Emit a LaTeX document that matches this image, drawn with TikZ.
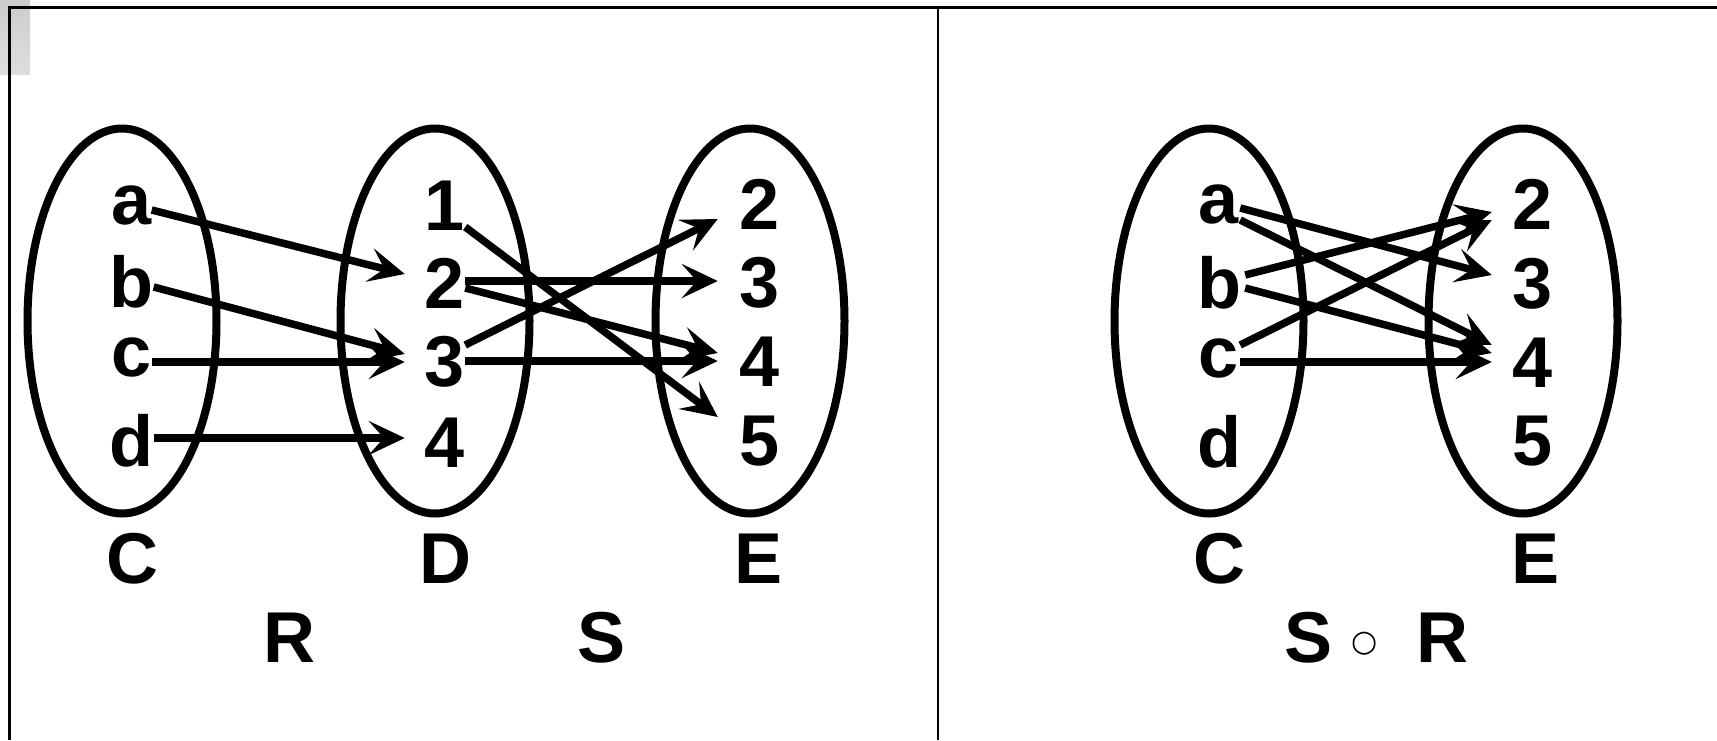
\documentclass[tikz,border=0pt]{standalone}
\usepackage{fontspec}
\setmainfont{Liberation Sans}
\newfontfamily\symfont{DejaVu Sans}
\usetikzlibrary{arrows.meta,calc,shapes.geometric}
\begin{document}
\begin{tikzpicture}[x=1pt,y=-1pt,
  lbl/.style={font=\fontsize{72}{80}\selectfont\bfseries, inner sep=0pt, anchor=base},
  setell/.style={draw, ellipse, line width=8pt, minimum width=189pt, minimum height=385pt, inner sep=0pt},
  conn/.style={line width=7.5pt, -{Stealth[length=36pt,width=34pt,inset=15pt]}},
  frame/.style={line width=3pt}]
% canvas
\fill[white] (0,0) rectangle (1717,740);
\useasboundingbox (0,0) rectangle (1717,740);
\shade[top color=black!20, bottom color=black!13] (0,0) rectangle (30,74);
\draw[frame] (9.5,740) -- (9.5,7.5) -- (1717,7.5);
\draw[line width=2.5pt] (938,7.5) -- (938,740);

% sets (left panel)
\node[setell] (setC) at (122,321) {};
\node[setell] (setD) at (435,321) {};
\node[setell] (setE) at (750,321) {};
% sets (right panel)
\node[setell] (setC2) at (1209,321) {};
\node[setell] (setE2) at (1523,321) {};

% elements of C
\node[lbl] (a) at (131.5,224) {a};
\node[lbl] (b) at (131.5,307) {b};
\node[lbl] (c) at (131.5,376) {c};
\node[lbl] (d) at (131.5,466) {d};
% elements of D
\node[lbl] (d1) at (445,230) {1};
\node[lbl] (d2) at (445,308) {2};
\node[lbl] (d3) at (445,386) {3};
\node[lbl] (d4) at (445,467) {4};
% elements of E
\node[lbl] (e2) at (760,229) {2};
\node[lbl] (e3) at (760,307) {3};
\node[lbl] (e4) at (760,386) {4};
\node[lbl] (e5) at (760,465) {5};
% right panel C
\node[lbl] (ra) at (1219,223) {a};
\node[lbl] (rb) at (1219,308) {b};
\node[lbl] (rc) at (1219,377) {c};
\node[lbl] (rd) at (1219,467) {d};
% right panel E
\node[lbl] (re2) at (1533,229) {2};
\node[lbl] (re3) at (1533,308) {3};
\node[lbl] (re4) at (1533,387) {4};
\node[lbl] (re5) at (1533,465) {5};

% set names
\node[lbl] (lC) at (132,583) {C};
\node[lbl] (lD) at (445,583) {D};
\node[lbl] (lE) at (759,583) {E};
\node[lbl] (lR) at (289,662) {R};
\node[lbl] (lS) at (602,662) {S};
\node[lbl] (rC) at (1219,583) {C};
\node[lbl] (rE) at (1535,583) {E};
\node[lbl] (cS) at (1308,662) {S};
\node[font=\symfont\fontsize{30}{34}\selectfont, inner sep=0pt] (cO) at (1365,644) {○};
\node[lbl] (cR) at (1442,662) {R};

% relation R
\draw[conn] ($(a.base east)+(0,-14)$) -- ($(d2.base west)+(-20,-34)$);
\draw[conn] ($(b.base east)+(0,-20)$) -- ($(d3.base west)+(-20,-32)$);
\draw[conn] ($(c.base east)+(0,-14)$) -- ($(d3.base west)+(-20,-24)$);
\draw[conn] ($(d.base east)+(0,-28)$) -- ($(d4.base west)+(-20,-29)$);
% relation S
\draw[conn] ($(d1.base east)+(0,-3)$) -- ($(e5.base west)+(-22,-48)$);
\draw[conn] ($(d2.base east)+(0,-27)$) -- ($(e3.base west)+(-22,-26)$);
\draw[conn] ($(d2.base east)+(0,-20)$) -- ($(e4.base west)+(-22,-33)$);
\draw[conn] ($(d3.base east)+(0,-41)$) -- ($(e2.base west)+(-22,-10)$);
\draw[conn] ($(d3.base east)+(0,-25)$) -- ($(e4.base west)+(-22,-25)$);
% composition S o R
\draw[conn] ($(ra.base east)+(1,-15)$) -- ($(re3.base west)+(-21,-33)$);
\draw[conn] ($(ra.base east)+(1,-3)$) -- ($(re4.base west)+(-21,-42)$);
\draw[conn] ($(rb.base east)+(4,-33)$) -- ($(re2.base west)+(-21,-17)$);
\draw[conn] ($(rb.base east)+(4,-20)$) -- ($(re4.base west)+(-21,-34)$);
\draw[conn] ($(rc.base east)+(1,-32)$) -- ($(re2.base west)+(-21,-9)$);
\draw[conn] ($(rc.base east)+(1,-15)$) -- ($(re4.base west)+(-21,-25)$);
\end{tikzpicture}
\end{document}
